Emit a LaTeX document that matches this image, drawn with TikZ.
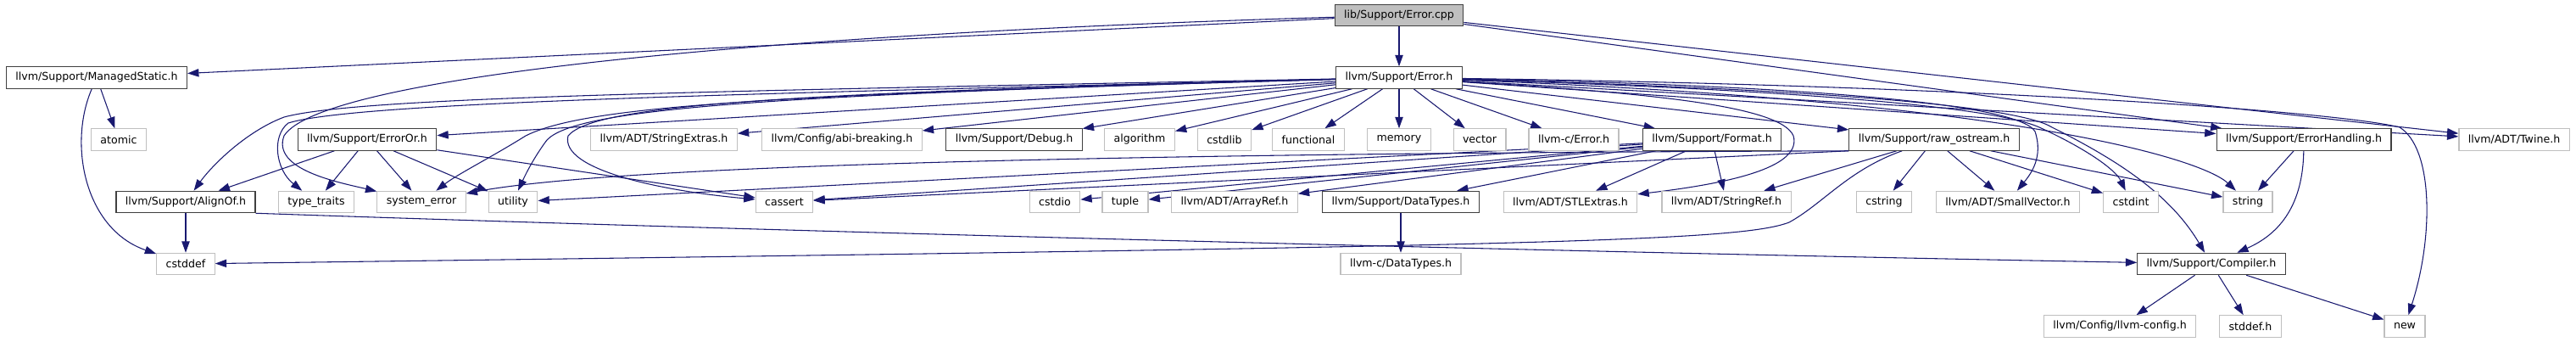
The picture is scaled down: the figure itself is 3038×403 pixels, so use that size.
\documentclass[tikz,border=0pt]{standalone}
\usepackage{fontspec}
\setmainfont{DejaVu Sans}
\usetikzlibrary{arrows.meta}
\definecolor{edgeblue}{HTML}{191970}
\definecolor{docgray}{HTML}{404040}
\definecolor{extgray}{HTML}{BFBFBF}
\pgfdeclarelayer{edges}
\pgfsetlayers{edges,main}
\tikzset{
  hdr/.style={draw, line width=0.9pt, fill=white, font=\fontsize{9.45}{11}\selectfont,
    minimum height=19pt, inner xsep=8.2pt, inner ysep=0pt},
  doc/.style={hdr, draw=docgray},
  ext/.style={hdr, draw=extgray},
  root/.style={doc, fill=extgray},
  inc/.style={edgeblue, line width=0.8pt, -{Triangle[length=10pt,width=7pt]}}
}
\begin{document}
\begin{tikzpicture}[x=0.75pt,y=-0.75pt]
  \useasboundingbox (0,0) rectangle (3038,403);
  % Source file and its direct headers
  \node[root] (cpp) at (1650,18) {lib/Support/Error.cpp};
  \node[doc] (mstat) at (114,91.5) {llvm/Support/ManagedStatic.h};
  \node[doc] (errh) at (1650,91.5) {llvm/Support/Error.h};
  % Headers pulled in by Error.h
  \node[ext] (atomic) at (140,164.5) {atomic};
  \node[doc] (erroror) at (433,164.5) {llvm/Support/ErrorOr.h};
  \node[ext] (strext) at (783,164.5) {llvm/ADT/StringExtras.h};
  \node[ext] (abi) at (993,164.5) {llvm/Config/abi-breaking.h};
  \node[doc] (debug) at (1196,164.5) {llvm/Support/Debug.h};
  \node[ext] (algorithm) at (1344,164.5) {algorithm};
  \node[ext] (cstdlib) at (1444,164.5) {cstdlib};
  \node[ext] (functional) at (1543,164.5) {functional};
  \node[ext] (memory) at (1650,164.5) {memory};
  \node[ext] (vector) at (1745,164.5) {vector};
  \node[ext] (cerror) at (1856,164.5) {llvm-c/Error.h};
  \node[doc] (format) at (2019,164.5) {llvm/Support/Format.h};
  \node[doc] (rawos) at (2281,164.5) {llvm/Support/raw\_ostream.h};
  \node[doc] (errhand) at (2717,164.5) {llvm/Support/ErrorHandling.h};
  \node[ext] (twine) at (2965,164.5) {llvm/ADT/Twine.h};
  % Third rank
  \node[doc] (alignof) at (219,238) {llvm/Support/AlignOf.h};
  \node[ext] (typetraits) at (373,238) {type\_traits};
  \node[ext] (syserr) at (497,238) {system\_error};
  \node[ext] (utility) at (605,238) {utility};
  \node[ext] (cassert) at (925,238) {cassert};
  \node[ext] (cstdio) at (1244,238) {cstdio};
  \node[ext] (tuple) at (1327,238) {tuple};
  \node[ext] (arrayref) at (1456,238) {llvm/ADT/ArrayRef.h};
  \node[doc] (datatypes) at (1652,238) {llvm/Support/DataTypes.h};
  \node[ext] (stlext) at (1852,238) {llvm/ADT/STLExtras.h};
  \node[ext] (strref) at (2036,238) {llvm/ADT/StringRef.h};
  \node[ext] (cstring) at (2222,238) {cstring};
  \node[ext] (smallvec) at (2368,238) {llvm/ADT/SmallVector.h};
  \node[ext] (cstdint) at (2513,238) {cstdint};
  \node[ext] (stringh) at (2651,238) {string};
  % Fourth and fifth rank
  \node[ext] (cstddef) at (219,311) {cstddef};
  \node[ext] (cdatatypes) at (1652,311) {llvm-c/DataTypes.h};
  \node[doc] (compiler) at (2608,311) {llvm/Support/Compiler.h};
  \node[ext] (llvmcfg) at (2500,384.5) {llvm/Config/llvm-config.h};
  \node[ext] (stddefh) at (2654,384.5) {stddef.h};
  \node[ext] (newh) at (2836,384.5) {new};
  \begin{pgfonlayer}{edges}
  % Includes of Error.cpp
  \foreach \t in {errh,mstat,errhand,twine}
    \draw[inc] (cpp) -- (\t);
  \draw[inc] (cpp) .. controls (900,40) and (380,90) .. (335,160)
    .. controls (320,200) and (400,215) .. (syserr);
  % Includes of Error.h
  \foreach \t in {erroror,strext,abi,debug,algorithm,cstdlib,functional,memory,vector,cerror,format,rawos,errhand,twine}
    \draw[inc] (errh) -- (\t);
  \draw[inc] (errh) .. controls (800,108) and (420,115) .. (335,138)
    .. controls (290,155) and (250,195) .. (alignof);
  \draw[inc] (errh) .. controls (900,110) and (420,120) .. (340,145)
    .. controls (320,160) and (325,200) .. (typetraits);
  \draw[inc] (errh) .. controls (900,112) and (690,125) .. (620,160)
    .. controls (580,185) and (540,205) .. (syserr);
  \draw[inc] (errh) .. controls (900,112) and (680,128) .. (645,165)
    .. controls (630,185) and (620,205) .. (utility);
  \draw[inc] (errh) .. controls (900,110) and (700,125) .. (670,160)
    .. controls (660,200) and (780,225) .. (cassert);
  \draw[inc] (errh) .. controls (1950,110) and (2100,125) .. (2115,160)
    .. controls (2125,195) and (2050,215) .. (stlext);
  \draw[inc] (errh) .. controls (2100,100) and (2380,120) .. (2400,155)
    .. controls (2410,185) and (2395,205) .. (smallvec);
  \draw[inc] (errh) .. controls (2100,105) and (2350,125) .. (2405,150)
    .. controls (2460,175) and (2495,200) .. (cstdint);
  \draw[inc] (errh) .. controls (2400,120) and (2600,190) .. (stringh);
  \draw[inc] (errh) .. controls (2150,105) and (2380,125) .. (2420,150)
    .. controls (2500,190) and (2560,230) .. (compiler);
  \draw[inc] (errh) .. controls (2300,100) and (2750,130) .. (2830,150)
    .. controls (2870,175) and (2870,280) .. (newh);
  % ManagedStatic.h
  \draw[inc] (mstat) -- (atomic);
  \draw[inc] (mstat) .. controls (80,170) and (100,270) .. (cstddef);
  % ErrorOr.h
  \foreach \t in {alignof,typetraits,syserr,utility,cassert}
    \draw[inc] (erroror) -- (\t);
  % Format.h
  \foreach \t in {cassert,cstdio,tuple,arrayref,datatypes,stlext,strref,utility}
    \draw[inc] (format) -- (\t);
  % raw_ostream.h
  \foreach \t in {cstring,smallvec,strref,cstdint,stringh}
    \draw[inc] (rawos) -- (\t);
  \draw[inc] (rawos.south west) -- (cassert);
  \draw[inc] (rawos.south west) .. controls (1500,180) and (750,190) .. (syserr);
  \draw[inc] (rawos) .. controls (2180,200) and (2150,240) .. (2110,262)
    .. controls (2050,285) and (1800,290) .. (cstddef);
  % ErrorHandling.h
  \draw[inc] (errhand) -- (stringh);
  \draw[inc] (errhand) .. controls (2716,240) and (2690,275) .. (compiler);
  % AlignOf.h, DataTypes.h, Compiler.h
  \draw[inc] (alignof) -- (cstddef);
  \draw[inc] (alignof.south east) .. controls (900,272) and (1800,296) .. (compiler);
  \draw[inc] (datatypes) -- (cdatatypes);
  \foreach \t in {llvmcfg,stddefh,newh}
    \draw[inc] (compiler) -- (\t);
  \end{pgfonlayer}
\end{tikzpicture}
\end{document}
